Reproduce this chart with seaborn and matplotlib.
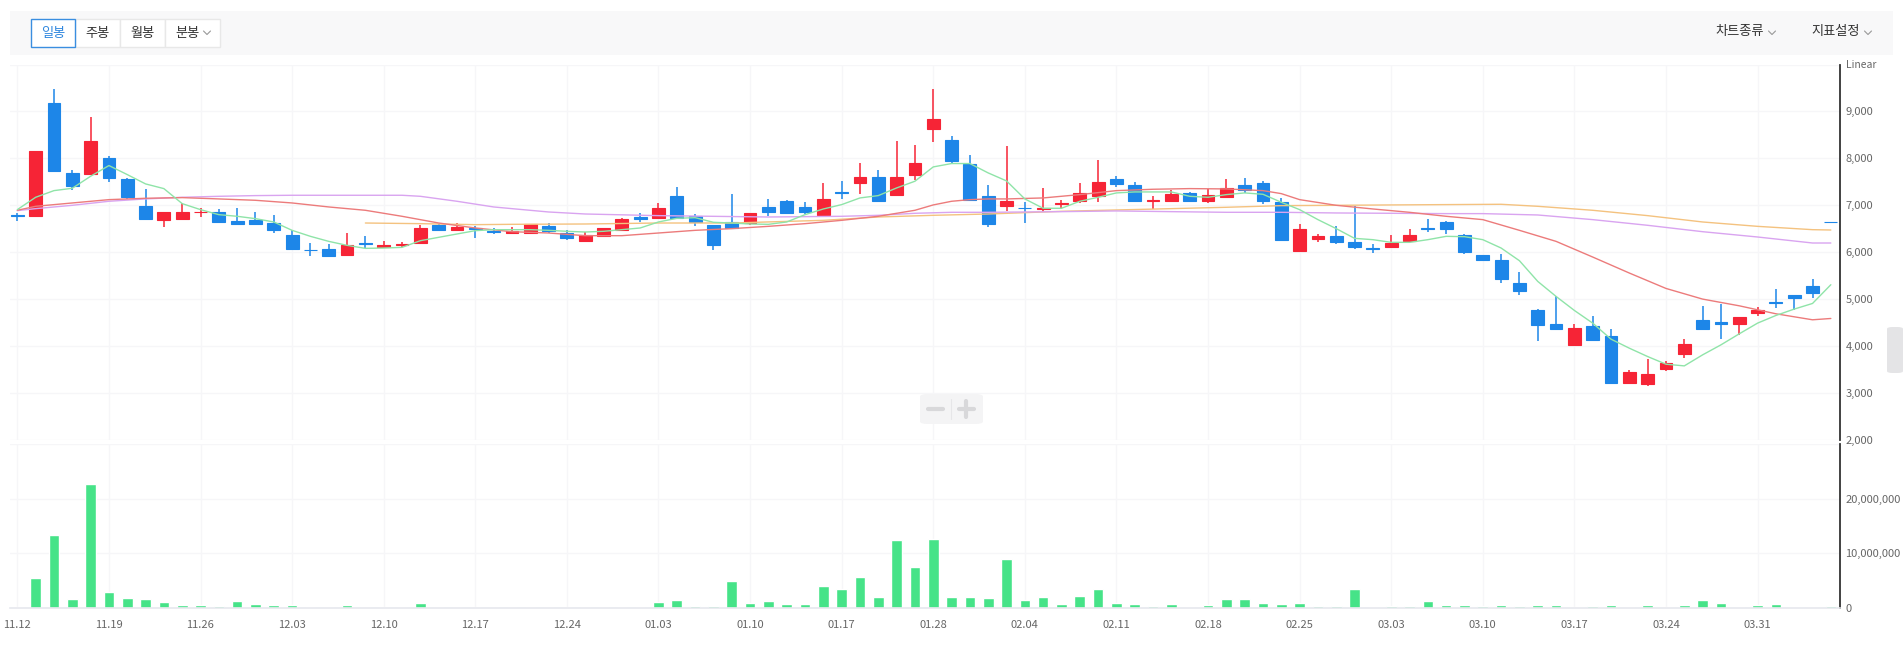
import numpy as np
import pandas as pd
import matplotlib
matplotlib.use('Agg')
import matplotlib.pyplot as plt
from matplotlib.patches import Rectangle, FancyBboxPatch
from matplotlib.lines import Line2D
import seaborn as sns

sns.set_theme(style='white')
plt.rcParams['font.family'] = ['Noto Sans CJK KR', 'DejaVu Sans']

W, H = 1903, 645

# trading days (KRX, 2019-11-12 ~ 2020-04-06)
holidays = ['2019-12-25', '2019-12-31', '2020-01-01', '2020-01-24', '2020-01-27']
dates = pd.bdate_range('2019-11-12', '2020-04-06', freq='C', holidays=holidays)
idx = np.arange(len(dates))

opens = [6800, 6770, 9180, 7680, 7660, 8010, 7570, 6990, 6680, 6715,
         6850, 6860, 6665, 6685, 6625, 6365, 6055, 6070, 5935, 6190,
         6120, 6155, 6190, 6575, 6480, 6515, 6460, 6405, 6410, 6560,
         6410, 6230, 6340, 6475, 6760, 6725, 7205, 6765, 6590, 6650,
         6625, 6970, 7095, 6970, 6785, 7290, 7470, 7605, 7230, 7640,
         8620, 8395, 7880, 7200, 6980, 6950, 6915, 7035, 7085, 7190,
         7570, 7435, 7095, 7100, 7265, 7085, 7180, 7435, 7475, 7070,
         6035, 6290, 6345, 6220, 6090, 6105, 6230, 6515, 6645, 6375,
         5940, 5840, 5350, 4775, 4470, 4015, 4435, 4220, 3225, 3190,
         3510, 3840, 4560, 4510, 4480, 4715, 4940, 5085, 5280, 6650]
closes = [6780, 8150, 7725, 7405, 8360, 7575, 7170, 6715, 6865, 6865,
          6865, 6640, 6595, 6595, 6465, 6060, 6040, 5910, 6145, 6175,
          6160, 6170, 6525, 6480, 6545, 6490, 6440, 6460, 6595, 6445,
          6295, 6365, 6515, 6710, 6700, 6950, 6735, 6640, 6145, 6510,
          6835, 6850, 6830, 6850, 7135, 7265, 7605, 7085, 7605, 7905,
          8845, 7940, 7120, 6595, 7095, 6935, 6945, 7055, 7265, 7500,
          7450, 7085, 7115, 7235, 7085, 7220, 7370, 7335, 7085, 6270,
          6490, 6345, 6210, 6105, 6075, 6205, 6375, 6505, 6490, 5995,
          5825, 5435, 5165, 4455, 4375, 4390, 4135, 3215, 3445, 3400,
          3635, 4050, 4375, 4480, 4625, 4780, 4915, 5015, 5125, 6650]
highs = [6830, 8150, 9470, 7760, 8885, 8055, 7585, 7350, 6865, 7050,
         6945, 6920, 6950, 6865, 6800, 6465, 6205, 6175, 6415, 6355,
         6240, 6210, 6575, 6610, 6630, 6560, 6510, 6545, 6595, 6630,
         6480, 6430, 6515, 6735, 6835, 7050, 7380, 6825, 6590, 7250,
         6835, 7135, 7115, 7070, 7465, 7520, 7905, 7755, 8380, 8290,
         9485, 8475, 8075, 7435, 8265, 7070, 7375, 7120, 7475, 7955,
         7620, 7505, 7205, 7335, 7290, 7350, 7550, 7590, 7520, 7165,
         6600, 6395, 6565, 6995, 6175, 6375, 6495, 6710, 6660, 6395,
         5940, 5970, 5585, 4790, 5060, 4470, 4645, 4360, 3485, 3735,
         3685, 4150, 4860, 4900, 4625, 4830, 5220, 5085, 5435, 6650]
lows = [6670, 6760, 7725, 7320, 7660, 7505, 7135, 6700, 6530, 6715,
        6750, 6625, 6595, 6575, 6405, 6040, 5910, 5890, 5910, 6090,
        6085, 6120, 6190, 6480, 6480, 6310, 6380, 6405, 6410, 6410,
        6255, 6230, 6320, 6475, 6640, 6725, 6735, 6550, 6055, 6495,
        6575, 6765, 6810, 6810, 6785, 7135, 7250, 7085, 7230, 7535,
        8345, 7910, 7120, 6530, 6870, 6630, 6865, 6935, 7050, 7065,
        7390, 7085, 6920, 7100, 7070, 7055, 7150, 7265, 7035, 6270,
        6020, 6210, 6170, 6070, 5975, 6105, 6210, 6425, 6380, 5955,
        5805, 5355, 5095, 4100, 4375, 4015, 4120, 3210, 3225, 3160,
        3480, 3755, 4375, 4160, 4235, 4640, 4805, 4760, 5015, 6650]

# volume, millions of shares
volume_m = [0.24, 5.57, 13.27, 1.65, 22.6, 2.94, 1.90, 1.65, 1.16, 0.61,
            0.61, 0.43, 1.28, 0.80, 0.61, 0.61, 0.24, 0.24, 0.61, 0.24,
            0.10, 0.10, 0.98, 0.24, 0.24, 0.24, 0.12, 0.24, 0.24, 0.24,
            0.12, 0.12, 0.12, 0.24, 0.12, 1.16, 1.53, 0.43, 0.43, 5.02,
            0.98, 1.35, 0.80, 0.80, 4.10, 3.49, 5.75, 2.02, 12.35, 7.58,
            12.54, 2.08, 2.08, 1.90, 9.05, 1.53, 2.08, 0.80, 2.26, 3.49,
            0.98, 0.80, 0.43, 0.80, 0.24, 0.61, 1.71, 1.71, 0.98, 0.80,
            0.98, 0.43, 0.43, 3.49, 0.24, 0.43, 0.43, 1.28, 0.61, 0.61,
            0.43, 0.61, 0.43, 0.61, 0.61, 0.24, 0.43, 0.61, 0.24, 0.61,
            0.24, 0.61, 1.53, 0.98, 0.24, 0.61, 0.80, 0.24, 0.24, 0.43]

# moving averages
ma5 = [6908, 7171, 7313, 7363, 7619, 7847, 7655, 7456, 7356, 7036,
       6908, 6801, 6766, 6716, 6645, 6467, 6339, 6232, 6147, 6083,
       6090, 6104, 6246, 6318, 6389, 6460, 6481, 6481, 6481, 6467,
       6446, 6431, 6446, 6481, 6517, 6645, 6723, 6737, 6638, 6623,
       6602, 6595, 6645, 6801, 6922, 7015, 7157, 7207, 7370, 7513,
       7818, 7890, 7890, 7690, 7520, 7136, 6937, 6937, 7086, 7171,
       7264, 7285, 7285, 7285, 7192, 7171, 7228, 7264, 7235, 7065,
       6908, 6695, 6503, 6296, 6268, 6211, 6211, 6268, 6339, 6332,
       6268, 6090, 5820, 5379, 5059, 4760, 4490, 4148, 3956, 3778,
       3615, 3579, 3814, 4027, 4262, 4490, 4653, 4789, 4909, 5308]
ma20_x = [0, 1, 3, 5, 7, 9, 11, 13, 15, 17, 19, 21, 23, 25, 27, 29, 31, 33, 35,
          37, 39, 41, 43, 45, 47, 49, 50, 51, 52, 53, 54, 56, 58, 60, 62, 64,
          66, 68, 69, 70, 72, 74, 76, 78, 80, 81, 82, 84, 86, 88, 90, 92, 94,
          96, 98, 99]
ma20_y = [6894, 6979, 7050, 7121, 7150, 7164, 7136, 7107, 7050, 6965, 6894,
          6766, 6623, 6517, 6438, 6410, 6353, 6353, 6410, 6467, 6503, 6552,
          6609, 6680, 6766, 6894, 7008, 7086, 7121, 7136, 7136, 7157, 7228,
          7313, 7342, 7356, 7349, 7313, 7249, 7121, 7000, 6922, 6851, 6766,
          6695, 6581, 6467, 6232, 5898, 5557, 5229, 5002, 4859, 4689, 4561,
          4589]
ma60_x = [0, 1, 3, 5, 7, 9, 11, 13, 15, 19, 21, 22, 24, 26, 27, 29, 31, 35,
          41, 45, 47, 49, 51, 53, 57, 60, 63, 66, 69, 72, 75, 78, 80, 83, 86,
          89, 92, 95, 98, 99]
ma60_y = [6887, 6929, 7000, 7086, 7136, 7171, 7192, 7207, 7214, 7214, 7214,
          7192, 7086, 6965, 6929, 6858, 6815, 6780, 6751, 6766, 6787, 6830,
          6851, 6851, 6865, 6880, 6865, 6851, 6851, 6837, 6830, 6823, 6823,
          6794, 6695, 6574, 6438, 6325, 6197, 6197]
ma120_x = [19, 22, 25, 27, 31, 35, 39, 44, 47, 50, 53, 57, 60, 63, 66, 69,
           72, 75, 78, 81, 83, 86, 89, 92, 95, 98, 99]
ma120_y = [6623, 6609, 6588, 6595, 6602, 6623, 6623, 6680, 6751, 6787, 6815,
           6872, 6901, 6929, 6958, 6993, 7000, 7008, 7015, 7022, 6979, 6894,
           6780, 6645, 6552, 6481, 6474]

RED = '#f62436'
BLUE = '#1d86e8'
VOL_GREEN = '#46e388'
GRID = '#f6f6f8'
TXT = '#666666'


def fx(x):
    return x / W


def fy(y):
    return 1 - y / H


fig = plt.figure(figsize=(W / 100, H / 100), dpi=100)
fig.patch.set_facecolor('white')

left, right = fx(10), fx(1840)
ax = fig.add_axes([left, fy(440), right - left, fy(64.5) - fy(440)])
axv = fig.add_axes([left, fy(608), right - left, fy(444) - fy(608)], sharex=ax)

# --- candles ---
opens_a, closes_a = np.array(opens), np.array(closes)
colors = [RED if c > o else BLUE for o, c in zip(opens, closes)]
ax.vlines(idx, lows, highs, colors=colors, lw=1.1, zorder=2)
ax.bar(idx, np.abs(closes_a - opens_a), bottom=np.minimum(opens_a, closes_a),
       width=0.7, color=colors, edgecolor=colors, linewidth=0.8, zorder=2)

# --- moving averages ---
sns.lineplot(x=ma120_x, y=ma120_y, ax=ax, color='#f4c27f', linewidth=1.0, zorder=3)
sns.lineplot(x=ma60_x, y=ma60_y, ax=ax, color='#d9a4f0', linewidth=1.0, zorder=3)
sns.lineplot(x=ma20_x, y=ma20_y, ax=ax, color='#ec7b7b', linewidth=1.0, zorder=3)
sns.lineplot(x=list(idx), y=ma5, ax=ax, color='#8fe4a8', linewidth=1.0, zorder=3)

# --- volume ---
sns.barplot(x=idx, y=np.array(volume_m) * 1e6, ax=axv, native_scale=True,
            width=0.58, color=VOL_GREEN, saturation=1, errorbar=None, zorder=2)

tick_pos = idx[::5]
tick_lab = [d.strftime('%m.%d') for d in dates[::5]]

for a in (ax, axv):
    a.set_xlim(-0.4, len(idx) - 0.5)
    a.set_xlabel('')
    a.set_ylabel('')
    a.set_xticks(tick_pos)
    a.grid(True, color=GRID, lw=1, zorder=0)
    a.set_axisbelow(True)
    for s in ('left', 'top', 'bottom'):
        a.spines[s].set_visible(False)
    a.spines['right'].set_color('#333333')
    a.spines['right'].set_linewidth(1.3)
    a.yaxis.tick_right()
    a.tick_params(axis='y', length=0, pad=4, labelsize=8, labelcolor=TXT)
    a.set_facecolor('white')

ax.set_ylim(2000, 10000)
price_ticks = list(range(2000, 10001, 1000))
ax.set_yticks(price_ticks)
ax.set_yticklabels([f'{t:,}' for t in price_ticks[:-1]] + [''])
ax.tick_params(axis='x', length=0, labelbottom=False)

axv.set_ylim(0, 30e6)
vol_ticks = [0, 10e6, 20e6, 30e6]
axv.set_yticks(vol_ticks)
axv.set_yticklabels(['0', '10,000,000', '20,000,000', ''])
axv.spines['bottom'].set_visible(True)
axv.spines['bottom'].set_color('#e6e8ee')
axv.spines['bottom'].set_linewidth(1.2)
axv.set_xticklabels(tick_lab)
axv.tick_params(axis='x', direction='out', length=6, width=1, color='#e6e8ee',
                pad=3, labelsize=8, labelcolor=TXT)
axv.set_xlim(-0.4, len(idx) - 0.5)

fig.text(fx(1846), fy(65), 'Linear', fontsize=7.5, color=TXT, va='center', ha='left')

# --- toolbar ---
fig.patches.append(Rectangle((fx(10), fy(55)), fx(1893) - fx(10), fy(11) - fy(55),
                             transform=fig.transFigure, facecolor='#f8f8f9',
                             edgecolor='none', zorder=0))
buttons = [('일봉', 30.7, 75.3), ('주봉', 75.3, 120.3), ('월봉', 120.3, 165.3), ('분봉', 165.3, 220.3)]
for i, (lab, x0, x1) in enumerate(buttons):
    sel = i == 0
    fig.patches.append(Rectangle((fx(x0), fy(46.7)), fx(x1) - fx(x0), fy(19) - fy(46.7),
                                 transform=fig.transFigure, facecolor='white',
                                 edgecolor='#3a8ee0' if sel else '#e8e8e8',
                                 lw=1.0, zorder=1 if not sel else 2))
    tx = (x0 + x1) / 2 if i < 3 else 187
    fig.text(fx(tx), fy(33), lab, fontsize=9.5, color='#2e86de' if sel else '#333333',
             ha='center', va='center')


def chevron(xc, yc, color='#999999'):
    fig.add_artist(Line2D([fx(xc - 3.5), fx(xc), fx(xc + 3.5)], [fy(yc - 2), fy(yc + 1.5), fy(yc - 2)],
                          transform=fig.transFigure, color=color, lw=0.8))


chevron(207, 33)
fig.text(fx(1740), fy(32), '차트종류', fontsize=9.5, color='#333333', ha='center', va='center')
chevron(1772, 33)
fig.text(fx(1836), fy(32), '지표설정', fontsize=9.5, color='#333333', ha='center', va='center')
chevron(1868, 33)

# zoom control
fig.patches.append(FancyBboxPatch((fx(920), fy(424)), fx(983) - fx(920), fy(394) - fy(424),
                                  boxstyle='round,pad=0,rounding_size=0.004',
                                  transform=fig.transFigure, facecolor='#f4f4f5',
                                  edgecolor='none', zorder=5))
ctl = '#d8d8da'
fig.add_artist(Line2D([fx(928), fx(943)], [fy(409), fy(409)], transform=fig.transFigure,
                      color=ctl, lw=3, zorder=6))
fig.add_artist(Line2D([fx(959), fx(974)], [fy(409), fy(409)], transform=fig.transFigure,
                      color=ctl, lw=3, zorder=6))
fig.add_artist(Line2D([fx(966.5), fx(966.5)], [fy(401), fy(417)], transform=fig.transFigure,
                      color=ctl, lw=3, zorder=6))
fig.add_artist(Line2D([fx(951), fx(951)], [fy(399), fy(419)], transform=fig.transFigure,
                      color='#e6e6e8', lw=0.8, zorder=6))

# side scroll handle
fig.patches.append(FancyBboxPatch((fx(1887), fy(373)), fx(1903) - fx(1887), fy(327) - fy(373),
                                  boxstyle='round,pad=0,rounding_size=0.003',
                                  transform=fig.transFigure, facecolor='#e4e4e6',
                                  edgecolor='none', zorder=5))

fig.savefig('out.png', dpi=100)
